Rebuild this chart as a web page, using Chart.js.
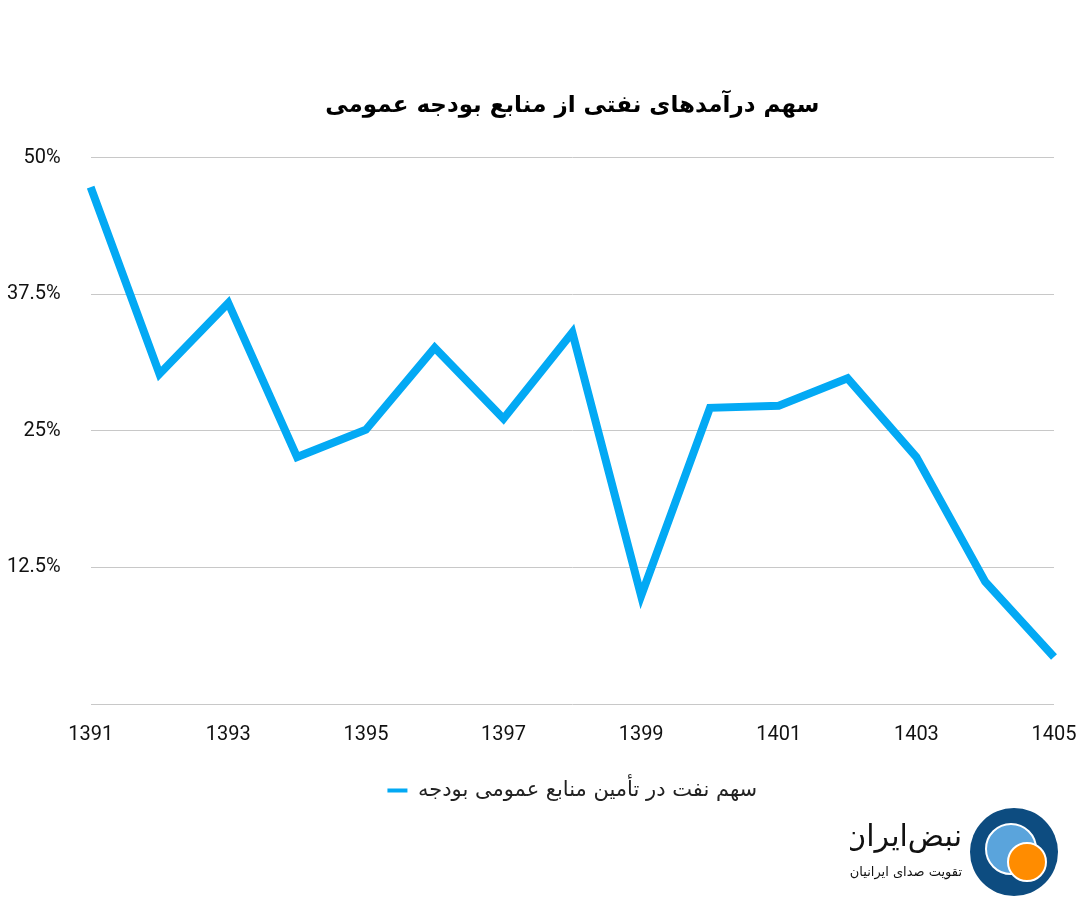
<!DOCTYPE html>
<html>
<head>
<meta charset="utf-8">
<script src="https://cdn.jsdelivr.net/npm/chart.js@4.4.0/dist/chart.umd.min.js"></script>
<style>
  html, body { margin: 0; padding: 0; background: #fff; }
  #wrap { position: relative; width: 1080px; height: 916px; }
  #logo { position: absolute; left: 850px; top: 806px; width: 220px; height: 100px; }
</style>
</head>
<body>
<div id="wrap">
  <canvas id="chart" width="1080" height="916"></canvas>
  <canvas id="logo" width="220" height="100"></canvas>
</div>
<script>
const years = ['1391','1392','1393','1394','1395','1396','1397','1398','1399','1400','1401','1402','1403','1404','1405'];
const oilShare = [47.3, 30.2, 36.7, 22.6, 25.1, 32.6, 26.1, 34.0, 9.9, 27.1, 27.3, 29.8, 22.6, 11.2, 4.3];
const yTicks = [0, 12.5, 25, 37.5, 50];

const faFont = "'DejaVu Sans', 'Noto Sans', sans-serif";
const numFont = "Roboto, 'Liberation Sans', sans-serif";
const lineColor = '#03a9f4';

new Chart(document.getElementById('chart'), {
  type: 'line',
  data: {
    labels: years,
    datasets: [{
      label: 'سهم نفت در تأمین منابع عمومی بودجه',
      data: oilShare,
      borderColor: lineColor,
      backgroundColor: lineColor,
      borderWidth: 8,
      pointRadius: 0,
      tension: 0,
      fill: false
    }]
  },
  options: {
    responsive: false,
    animation: false,
    layout: { padding: { left: -23, right: 26, top: 0, bottom: 105 } },
    plugins: {
      title: {
        display: true,
        fullSize: false,
        text: 'سهم درآمدهای نفتی از منابع بودجه عمومی',
        color: '#000',
        font: { family: faFont, size: 23, weight: 'bold' },
        padding: { top: 92, bottom: 38 }
      },
      legend: {
        position: 'bottom',
        fullSize: false,
        labels: {
          color: '#222',
          font: { family: faFont, size: 21 },
          boxWidth: 20,
          boxHeight: 4,
          padding: 22,
          generateLabels: chart => chart.data.datasets.map((ds, i) => ({
            text: ds.label,
            fillStyle: ds.borderColor,
            strokeStyle: ds.borderColor,
            lineWidth: 0,
            fontColor: '#222',
            datasetIndex: i
          }))
        }
      },
      tooltip: { enabled: false }
    },
    scales: {
      x: {
        grid: { display: false },
        border: { display: false },
        ticks: {
          autoSkip: false,
          maxRotation: 0,
          color: '#111',
          font: { family: numFont, size: 20, lineHeight: 2.3 },
          padding: 0,
          callback: (v, i) => i % 2 === 0 ? years[i] : ''
        }
      },
      y: {
        min: 0,
        max: 50,
        afterBuildTicks: axis => { axis.ticks = yTicks.map(v => ({ value: v })); },
        grid: { color: '#c8c8c8', lineWidth: 1, drawTicks: false },
        border: { display: false },
        ticks: {
          color: '#111',
          font: { family: numFont, size: 20 },
          padding: 30,
          callback: v => v === 0 ? '' : v + '%'
        }
      }
    }
  }
});

// logo
const lc = document.getElementById('logo').getContext('2d');
lc.fillStyle = '#0d4c80';
lc.beginPath(); lc.arc(164, 46, 44, 0, Math.PI * 2); lc.fill();
lc.fillStyle = '#5aa4dc';
lc.strokeStyle = '#fff';
lc.lineWidth = 2;
lc.beginPath(); lc.arc(161, 43, 25, 0, Math.PI * 2); lc.fill(); lc.stroke();
lc.fillStyle = '#ff8c00';
lc.beginPath(); lc.arc(177, 56, 19, 0, Math.PI * 2); lc.fill(); lc.stroke();
lc.fillStyle = '#111';
lc.textAlign = 'right';
lc.direction = 'rtl';
lc.font = "30px " + faFont;
lc.fillText('نبض‌ایران', 112, 40);
lc.font = "13px " + faFont;
lc.fillText('تقویت صدای ایرانیان', 112, 70);
</script>
</body>
</html>
